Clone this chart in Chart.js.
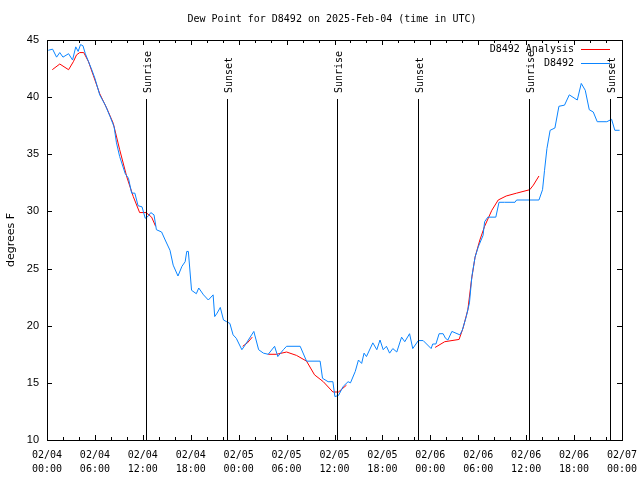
<!DOCTYPE html>
<html>
<head>
<meta charset="utf-8">
<script src="https://cdn.jsdelivr.net/npm/chart.js@4"></script>
<style>
  html, body { margin: 0; padding: 0; background: #fff; }
  #wrap { width: 640px; height: 480px; }
</style>
</head>
<body>
<div id="wrap"><canvas id="c" width="640" height="480"></canvas></div>
<script>
// hours since 02/04 00:00 UTC
const obsHours = [0.16, 0.7, 1.2, 1.6, 2.0, 2.7, 3.2, 3.6, 3.9, 4.2, 4.5, 4.8, 5.2, 5.6, 6.0, 6.6, 7.3, 7.9, 8.4, 8.7,
  9.1, 9.8, 10.2, 10.6, 11.0, 11.4, 11.9, 12.3, 12.7, 13.0, 13.4, 13.7, 14.35, 14.8, 15.4, 15.8, 16.4, 16.9, 17.3, 17.5,
  17.7, 18.1, 18.7, 19.0, 19.6, 20.2, 20.8, 21.0, 21.3, 21.7, 22.1, 22.5, 22.9, 23.3, 23.7, 24.4, 24.8, 25.9, 26.5, 27.1,
  27.7, 28.5, 28.9, 29.6, 30.0, 31.7, 32.5, 34.2, 34.5, 35.2, 35.8, 36.05, 36.5, 37.1, 37.7, 38.0, 38.6, 39.0, 39.4, 39.7,
  40.0, 40.8, 41.3, 41.7, 42.1, 42.5, 42.9, 43.3, 43.8, 44.4, 44.8, 45.4, 45.8, 46.5, 47.1, 48.1, 48.3, 48.7, 49.1, 49.6,
  49.9, 50.2, 50.7, 51.7, 52.0, 52.5, 52.9, 53.2, 53.6, 54.0, 54.6, 54.8, 55.2, 56.2, 56.6, 57.3, 58.6, 58.8, 61.6, 62.05,
  62.3, 62.6, 63.0, 63.6, 64.1, 64.8, 65.4, 66.4, 66.9, 67.4, 67.9, 68.4, 68.9, 70.1, 70.7, 71.1, 71.7];
const obsDew = [44.1, 44.2, 43.5, 43.9, 43.5, 43.8, 43.25, 44.4, 44.0, 44.6, 44.5, 43.8, 43.1, 42.4, 41.65, 40.2, 39.3, 38.3, 37.4, 36.0,
  34.8, 33.3, 32.9, 31.6, 31.6, 30.5, 30.4, 29.4, 29.6, 29.9, 29.7, 28.4, 28.2, 27.5, 26.6, 25.3, 24.35, 25.2, 25.6, 26.5,
  26.5, 23.1, 22.8, 23.3, 22.7, 22.25, 22.7, 20.8, 21.1, 21.6, 20.5, 20.35, 20.2, 19.2, 18.9, 17.9, 18.3, 19.5, 17.9, 17.6,
  17.5, 18.2, 17.3, 17.9, 18.2, 18.2, 16.9, 16.9, 15.4, 15.1, 15.1, 13.8, 13.9, 14.7, 15.1, 15.0, 16.0, 17.0, 16.7, 17.6,
  17.3, 18.5, 17.9, 18.75, 17.9, 18.2, 17.6, 18.0, 17.7, 19.0, 18.6, 19.3, 18.0, 18.7, 18.7, 18.0, 18.4, 18.4, 19.3, 19.3,
  18.9, 18.75, 19.5, 19.2, 19.6, 20.8, 22.0, 24.3, 26.0, 26.9, 27.9, 29.1, 29.5, 29.5, 30.8, 30.8, 30.8, 31.0, 31.0, 31.9,
  33.6, 35.5, 37.1, 37.3, 39.2, 39.3, 40.2, 39.75, 41.2, 40.6, 38.9, 38.7, 37.85, 37.85, 38.06, 37.1, 37.1];

// analysis series, null = gap
const anaHours = [0.66, 1.6, 2.7, 3.3, 3.7, 4.1, 4.6, 5.2, 5.8, 6.6, 7.5, 8.3, 9.1, 10.0, 10.8, 11.6, 12.4, 13.1, 13.6,
  14.0, 24.5, 25.1, 25.7, 26.0, 27.7, 28.75, 30.0, 31.25, 32.5, 33.5, 34.6, 35.8, 36.5, 37.5, 40.0,
  48.6, 49.8, 51.6, 52.1, 52.7, 53.15, 53.6, 54.2, 54.8, 55.7, 56.5, 57.5, 58.8, 60.45, 60.9, 61.6];
const anaDew = [42.4, 42.9, 42.4, 43.1, 43.7, 43.9, 43.9, 43.1, 41.9, 40.3, 39.0, 37.7, 35.4, 33.0, 31.3, 29.9, 29.9, 29.5, 28.7,
  null, 18.2, 18.5, 19.0, null, 17.5, 17.5, 17.7, 17.4, 16.9, 15.7, 15.1, 14.2, 14.2, 14.8, null,
  18.1, 18.6, 18.8, 19.8, 21.4, 24.0, 26.0, 27.5, 28.7, 30.1, 31.0, 31.35, 31.6, 31.9, 32.3, 33.1];

const sunHours = [12.4, 22.57, 36.33, 46.47, 60.37, 70.5];
const sunLabels = ['Sunrise', 'Sunset', 'Sunrise', 'Sunset', 'Sunrise', 'Sunset'];

const xTickLabels = [
  ['02/04', '00:00'], ['02/04', '06:00'], ['02/04', '12:00'], ['02/04', '18:00'],
  ['02/05', '00:00'], ['02/05', '06:00'], ['02/05', '12:00'], ['02/05', '18:00'],
  ['02/06', '00:00'], ['02/06', '06:00'], ['02/06', '12:00'], ['02/06', '18:00'],
  ['02/07', '00:00']
];

const MONO = '"DejaVu Sans Mono", monospace';
const OBS_COLOR = '#0a84ff';
const ANA_COLOR = '#ff0000';

const toPoints = (xs, ys) => xs.map((x, i) => ({ x: x, y: ys[i] }));

// frame, inward ticks, sun lines, legend, title
const decor = {
  id: 'decor',
  afterDatasetsDraw(chart) {
    const ctx = chart.ctx;
    const a = chart.chartArea;
    const xs = chart.scales.x, ys = chart.scales.y;
    ctx.save();
    ctx.strokeStyle = '#000';
    ctx.lineWidth = 1;

    // sunrise / sunset
    ctx.font = '10px ' + MONO;
    ctx.fillStyle = '#000';
    sunHours.forEach((h, i) => {
      const px = Math.round(xs.getPixelForValue(h)) + 0.5;
      ctx.beginPath();
      ctx.moveTo(px, 99);
      ctx.lineTo(px, a.bottom);
      ctx.stroke();
      ctx.save();
      ctx.translate(px + 4, 93);
      ctx.rotate(-Math.PI / 2);
      ctx.textAlign = 'left';
      ctx.fillText(sunLabels[i], 0, 0);
      ctx.restore();
    });

    // box
    ctx.strokeRect(Math.round(a.left) + 0.5, Math.round(a.top) + 0.5,
      Math.round(a.right - a.left), Math.round(a.bottom - a.top));

    // x ticks (major 6h, minor 2h)
    for (let h = 0; h <= 72; h += 2) {
      const px = Math.round(xs.getPixelForValue(h)) + 0.5;
      const len = h % 6 === 0 ? 5 : 3;
      ctx.beginPath();
      ctx.moveTo(px, a.bottom); ctx.lineTo(px, a.bottom - len);
      ctx.moveTo(px, a.top); ctx.lineTo(px, a.top + len);
      ctx.stroke();
    }
    // y ticks
    for (let v = 10; v <= 45; v += 5) {
      const py = Math.round(ys.getPixelForValue(v)) + 0.5;
      ctx.beginPath();
      ctx.moveTo(a.left, py); ctx.lineTo(a.left + 5, py);
      ctx.moveTo(a.right, py); ctx.lineTo(a.right - 5, py);
      ctx.stroke();
    }

    // legend
    const items = [
      { label: 'D8492 Analysis', color: ANA_COLOR, y: 49 },
      { label: 'D8492', color: OBS_COLOR, y: 63 }
    ];
    ctx.textAlign = 'right';
    ctx.textBaseline = 'middle';
    items.forEach(it => {
      ctx.fillStyle = '#000';
      ctx.fillText(it.label, 574, it.y);
      ctx.fillStyle = it.color;
      ctx.fillRect(581, it.y, 29, 1);
    });

    // title
    ctx.fillStyle = '#000';
    ctx.textAlign = 'center';
    ctx.fillText('Dew Point for D8492 on 2025-Feb-04 (time in UTC)', 332, 19);

    // y axis title
    ctx.save();
    ctx.translate(11, 240);
    ctx.rotate(-Math.PI / 2);
    ctx.font = '11px "DejaVu Sans", sans-serif';
    ctx.textAlign = 'center';
    ctx.fillText('degrees F', 0, 0);
    ctx.restore();
    ctx.restore();
  }
};

new Chart(document.getElementById('c'), {
  type: 'line',
  data: {
    datasets: [
      {
        label: 'D8492',
        data: toPoints(obsHours, obsDew),
        borderColor: OBS_COLOR,
        borderWidth: 1,
        pointRadius: 0,
        tension: 0
      },
      {
        label: 'D8492 Analysis',
        data: toPoints(anaHours, anaDew),
        borderColor: ANA_COLOR,
        borderWidth: 1,
        pointRadius: 0,
        tension: 0,
        spanGaps: false
      }
    ]
  },
  options: {
    responsive: false,
    animation: false,
    layout: { padding: { top: 40, right: 18, left: 0, bottom: 0 } },
    plugins: { legend: { display: false }, tooltip: { enabled: false } },
    scales: {
      x: {
        type: 'linear',
        min: 0,
        max: 72,
        grid: { display: false },
        border: { display: false },
        ticks: {
          stepSize: 6,
          maxRotation: 0,
          autoSkip: false,
          padding: 0,
          color: '#000',
          font: { family: MONO, size: 10, lineHeight: 1.4 },
          callback: v => xTickLabels[v / 6]
        },
        afterFit: s => { s.height = 40; s.paddingLeft = 0; s.paddingRight = 0; }
      },
      y: {
        min: 10,
        max: 45,
        grid: { display: false },
        border: { display: false },
        ticks: {
          stepSize: 5,
          padding: 0,
          color: '#000',
          font: { family: '"Liberation Sans", sans-serif', size: 11 }
        },
        afterFit: s => { s.width = 47; s.paddingTop = 0; s.paddingBottom = 0; }
      }
    }
  },
  plugins: [decor]
});
</script>
</body>
</html>
